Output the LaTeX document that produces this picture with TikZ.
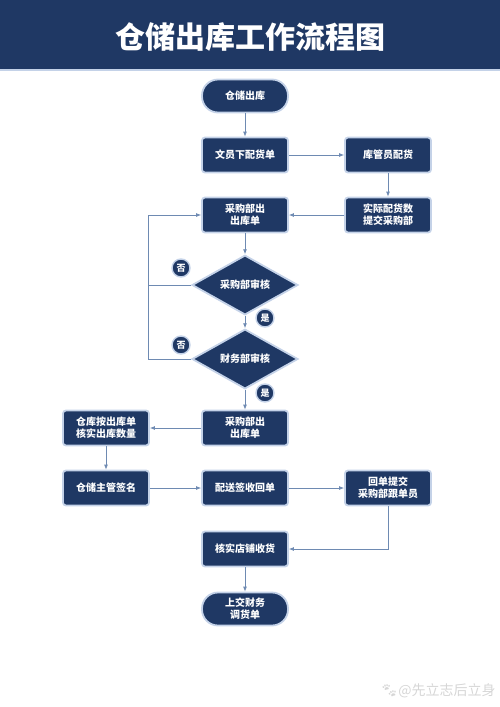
\documentclass[tikz,border=0pt]{standalone}
\usepackage{fontspec}
\setmainfont{Noto Sans CJK SC}
\newfontfamily\emoji{Noto Emoji}
\usetikzlibrary{positioning, shapes.geometric, arrows.meta}
\definecolor{navy}{RGB}{31,56,100}
\definecolor{rim}{RGB}{196,210,232}
\definecolor{flow}{RGB}{110,138,178}

\begin{document}
\begin{tikzpicture}[x=1pt, y=-1pt, font=\bfseries\fontsize{10}{12}\selectfont,
	box/.style={rectangle, rounded corners=3pt, draw=rim, line width=1.8pt, fill=navy, text=white, minimum width=86pt, minimum height=35pt, align=center, inner sep=2pt},
	term/.style={box, rounded corners=16pt, minimum height=33pt},
	check/.style={diamond, draw=rim, line width=1.8pt, fill=navy, text=white, minimum width=106pt, minimum height=46pt, inner sep=0pt},
	tag/.style={circle, draw=rim, line width=1.4pt, fill=navy, text=white, minimum size=18pt, inner sep=0pt, font=\bfseries\fontsize{9}{10}\selectfont},
	link/.style={draw=flow, line width=0.8pt},
	go/.style={link, -{Latex[length=5pt, width=4pt]}}]
		\useasboundingbox (0,0) rectangle (500,707);
		% header band
		\fill[navy] (0,0) rectangle (500,70);
		\draw[rim, line width=1.5pt] (0,70) -- (500,70);
		\node[text=white, font=\bfseries\fontsize{30}{34}\selectfont] (title) at (250,37) {仓储出库工作流程图};
		% main column
		\node[term] (start) at (245,96) {仓储出库};
		\node[box] (clerk) at (245,155) {文员下配货单};
		\node[box] (keeper) at (388,155) {库管员配货};
		\node[box] (report) at (388,215) {实际配货数\\提交采购部};
		\node[box] (order) at (245,215) {采购部出\\出库单};
		\node[check] (buyck) at (245,285) {采购部审核};
		\node[check] (finck) at (245,359) {财务部审核};
		\node[box] (order2) at (245,428) {采购部出\\出库单};
		\node[box] (verify) at (106,428) {仓库按出库单\\核实出库数量};
		\node[box] (sign) at (106,488) {仓储主管签名};
		\node[box] (receipt) at (245,488) {配送签收回单};
		\node[box] (return) at (388,488) {回单提交\\采购部跟单员};
		\node[box] (shop) at (245,549) {核实店铺收货};
		\node[term] (finish) at (245,609) {上交财务\\调货单};
		% yes / no marks
		\node[tag] (no1) at (181,268) {否};
		\node[tag] (yes1) at (265,318) {是};
		\node[tag] (no2) at (181,345) {否};
		\node[tag] (yes2) at (265,393) {是};
		% connectors
		\draw[go] (start) -- (clerk);
		\draw[go] (clerk) -- (keeper);
		\draw[go] (keeper) -- (report);
		\draw[go] (report) -- (order);
		\draw[go] (order) -- (buyck);
		\draw[go] (buyck) -- (finck);
		\draw[go] (finck) -- (order2);
		\draw[go] (order2) -- (verify);
		\draw[go] (verify) -- (sign);
		\draw[go] (sign) -- (receipt);
		\draw[go] (receipt) -- (return);
		\draw[go] (return) |- (shop);
		\draw[go] (shop) -- (finish);
		\coordinate (back) at (148,359);
		\draw[go] (finck.west) -- (back) |- (order.west);
		\draw[link] (buyck.west) -- (buyck.west -| back);
		% watermark
		\node[text=black!16, font=\fontsize{14}{16}\selectfont, inner sep=0pt] (mark) at (438,691) {{\emoji 🐾}@先立志后立身};
	\end{tikzpicture}
\end{document}
